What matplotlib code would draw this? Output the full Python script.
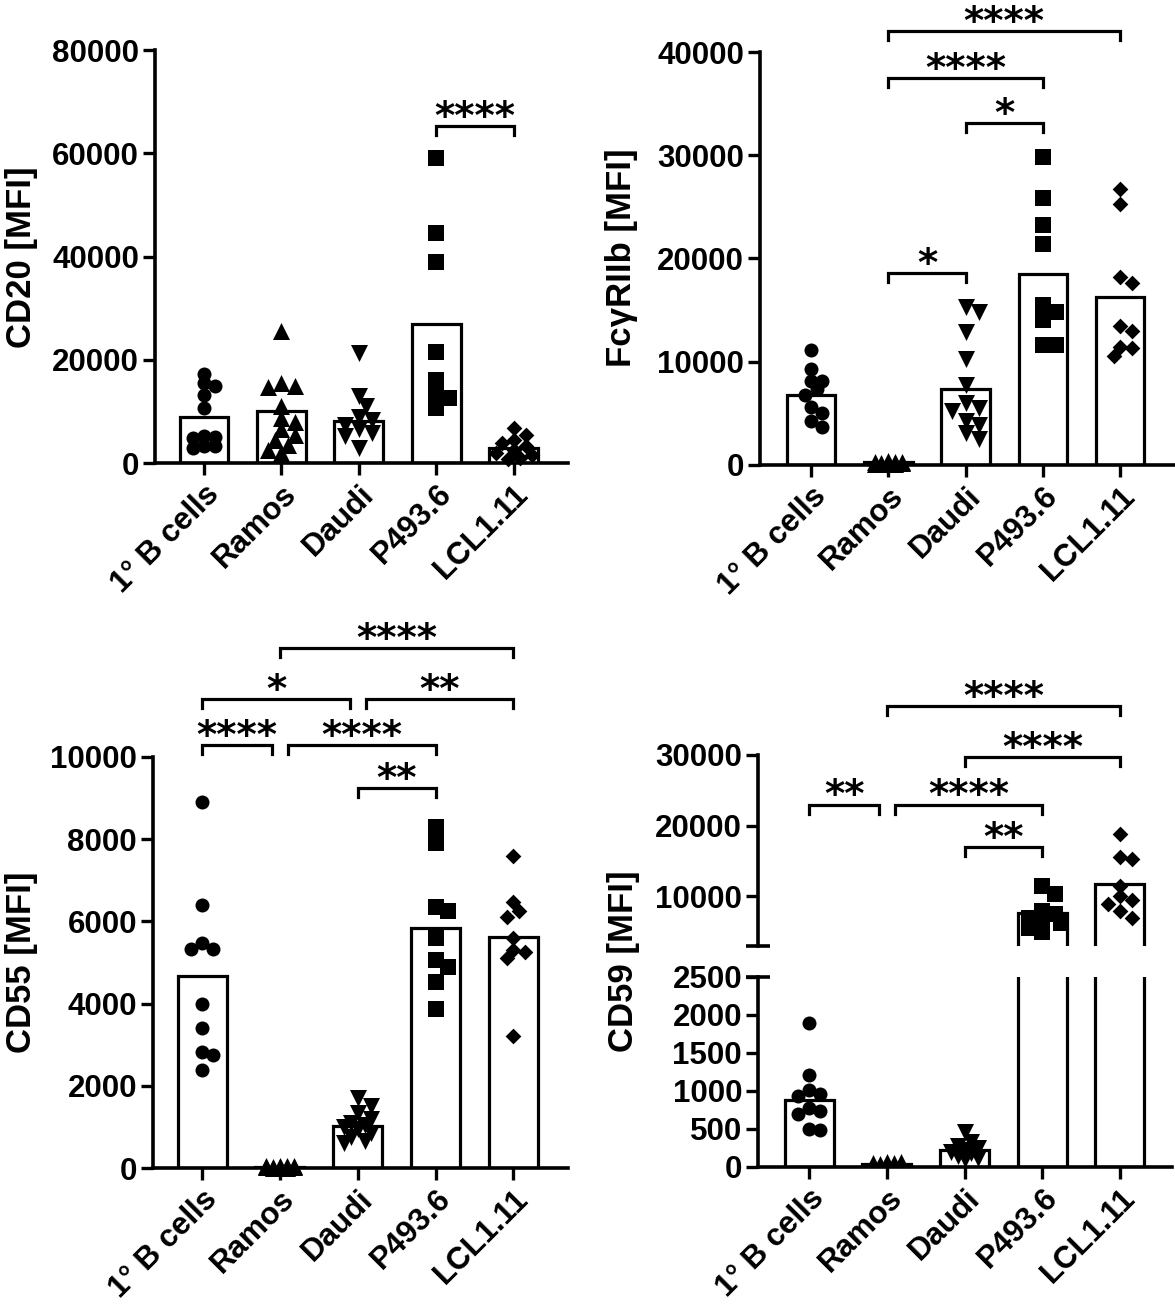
import matplotlib
matplotlib.use("Agg")
import matplotlib.pyplot as plt
import numpy as np

plt.rcParams["font.family"] = ["Liberation Sans", "DejaVu Sans"]
plt.rcParams["font.weight"] = "bold"

W, H = 1175, 1306

CATS = ["1° B cells", "Ramos", "Daudi", "P493.6", "LCL1.11"]
MARKERS = ["o", "^", "v", "s", "D"]
MARKER_PX = [14, 17, 17, 16, 15]

# CD20 [MFI]
cd20_bcells = [17300, 15500, 15000, 13200, 10600, 5300, 5000, 4800, 3300, 3200, 3000]
cd20_ramos = [25500, 15500, 15000, 14800, 11000, 8700, 8000, 6500, 5500, 4500, 3500, 2500, 2000]
cd20_daudi = [21300, 12900, 11000, 9000, 8400, 7400, 6500, 5800, 5200, 2900]
cd20_p493 = [59000, 44500, 39000, 21500, 16100, 13200, 12600, 10600]
cd20_lcl = [6800, 5500, 4500, 3800, 3200, 2600, 2000, 1500, 1000, 800]
cd20_bars = [9000, 10000, 8100, 26900, 2900]
cd20_sig = [(3, 4, "****", 65300)]

# FcgRIIb [MFI]
fcg_bcells = [11100, 9300, 8100, 8100, 7400, 6800, 5600, 5000, 4300, 3700]
fcg_ramos = [350, 300, 250, 250, 200, 200, 150, 150, 100, 100, 80, 50]
fcg_daudi = [15300, 14800, 12900, 10300, 7700, 6000, 5500, 5200, 4300, 3900, 3100, 2500]
fcg_p493 = [29800, 25900, 23200, 21400, 15500, 14800, 14000, 11600, 11600]
fcg_lcl = [26700, 25300, 18200, 17600, 13500, 13000, 11400, 11300, 10600]
fcg_bars = [6800, 300, 7400, 18500, 16300]
fcg_sig = [(1, 2, "*", 18600), (2, 3, "*", 33100), (1, 3, "****", 37500), (1, 4, "****", 42000)]

# CD55 [MFI]
cd55_bcells = [8900, 6400, 5470, 5340, 5340, 4000, 3400, 2830, 2750, 2390]
cd55_ramos = [60, 50, 40, 40, 30, 30, 20, 20, 15, 10, 10, 5]
cd55_daudi = [1700, 1500, 1350, 1200, 1100, 1050, 1000, 950, 850, 750, 650, 600]
cd55_p493 = [8300, 7900, 6340, 6250, 5600, 5060, 4880, 4520, 3880]
cd55_lcl = [7600, 6470, 6250, 6100, 5600, 5300, 5250, 5100, 3200]
cd55_bars = [4670, 30, 1020, 5850, 5630]
cd55_sig = [(0, 1, "****", 10290), (1, 3, "****", 10290), (2, 3, "**", 9250),
            (0, 2, "*", 11400), (2, 4, "**", 11400), (1, 4, "****", 12640)]

# CD59 [MFI] (broken axis)
cd59_bcells = [1890, 1210, 1010, 960, 930, 780, 740, 700, 500, 490]
cd59_ramos = [70, 60, 50, 50, 40, 40, 30, 30, 20, 20, 10, 10]
cd59_daudi = [460, 330, 280, 250, 220, 200, 180, 150, 120, 100]
cd59_p493 = [11500, 10400, 8000, 7500, 7000, 6600, 6200, 5500, 5000]
cd59_lcl = [18900, 15600, 15300, 11500, 10000, 9500, 9000, 8000, 7000]
cd59_bars = [883, 35, 220, 7700, 11700]
cd59_sig = [(0, 1, "**", 23000), (1, 3, "****", 23000), (2, 3, "**", 17000),
            (2, 4, "****", 29700), (1, 4, "****", 36900)]

LW = 2.3
TICK_FS = 22.5
STAR_FS = 28


def add_ax(fig, left, right, top, bottom):
    return fig.add_axes([left / W, 1 - bottom / H, (right - left) / W, (bottom - top) / H])


def style_ax(ax, xlim, ylim, yticks, show_x=True):
    ax.set_xlim(*xlim)
    ax.set_ylim(*ylim)
    ax.set_yticks(yticks)
    ax.set_yticklabels([str(t) for t in yticks])
    for s in ["top", "right"]:
        ax.spines[s].set_visible(False)
    for s in ["left", "bottom"]:
        ax.spines[s].set_linewidth(2.6)
    ax.tick_params(axis="both", direction="out", length=8.5, width=2.4,
                   labelsize=TICK_FS, pad=3)
    ax.set_xticks(range(len(CATS)))
    if show_x:
        ax.set_xticklabels(CATS, rotation=45, ha="right", va="top",
                           rotation_mode="anchor", fontsize=TICK_FS)
    else:
        ax.set_xticklabels([])
    for lab in ax.get_yticklabels() + ax.get_xticklabels():
        lab.set_fontweight("bold")


def swarm_offsets(vals, ypx, diam, xpx, max_units=0.25):
    # simple deterministic beeswarm in pixel space
    vals = np.asarray(vals, float)
    order = np.argsort(vals)[::-1]
    placed = []
    offs = np.zeros(len(vals))
    cands = [0.0]
    for k in range(1, 20):
        cands += [k * diam * 0.4, -k * diam * 0.4]
    for idx in order:
        y = vals[idx] * ypx
        best, bestc, bestd = None, 0.0, -1
        for c in cands:
            if abs(c) > max_units * xpx:
                continue
            d = min([np.hypot(c - px, y - py) for px, py in placed], default=np.inf)
            if d >= 0.65 * diam:
                best = c
                break
            if d > bestd:
                bestd, bestc = d, c
        if best is None:
            best = bestc
        placed.append((best, y))
        offs[idx] = best / xpx
    return offs


def px_scale(ax):
    bb = ax.get_window_extent()
    x0, x1 = ax.get_xlim()
    y0, y1 = ax.get_ylim()
    return bb.width / (x1 - x0), bb.height / (y1 - y0), bb.height


def draw_points(ax, groups, bars, lo=None, hi=None):
    xpx, ypx, _ = px_scale(ax)
    ax.bar(range(len(bars)), bars, width=0.63, facecolor="white", edgecolor="black",
           linewidth=LW, zorder=1)
    for i, vals in enumerate(groups):
        vals = np.asarray(vals, float)
        offs = swarm_offsets(vals, ypx, MARKER_PX[i], xpx)
        mask = np.ones(len(vals), bool)
        if lo is not None:
            mask &= vals >= lo
        if hi is not None:
            mask &= vals < hi
        size = (MARKER_PX[i] / 1.389) ** 2
        if MARKERS[i] == "D":
            size *= 0.55
        ax.scatter(i + offs[mask], vals[mask], marker=MARKERS[i], s=size, color="black",
                   linewidths=0, zorder=3, clip_on=False)


def draw_sig(ax, sigs):
    _, ypx, _ = px_scale(ax)
    leg = 9 / ypx
    ends = {}
    for i, j, lab, y in sigs:
        ends.setdefault(y, []).append((i, j))
    for i, j, lab, y in sigs:
        others = [p for p in ends[y] if p != (i, j)]
        xl, xr = float(i), float(j)
        if any(p[1] == i for p in others):
            xl += 0.1
        if any(p[0] == j for p in others):
            xr -= 0.1
        ax.plot([xl, xl, xr, xr], [y - leg, y, y, y - leg], color="black", lw=2.3,
                clip_on=False, solid_joinstyle="miter", zorder=4)
        ax.annotate(lab, ((xl + xr) / 2, y), xytext=(0, -2), textcoords="offset points",
                    ha="center", va="baseline", fontsize=STAR_FS, fontweight="bold",
                    family="DejaVu Sans", annotation_clip=False)


fig = plt.figure(figsize=(W / 100, H / 100), dpi=100)

# panel A: CD20
ax1 = add_ax(fig, 155, 568, 50, 463)
style_ax(ax1, (-0.632, 4.70), (0, 80000), [0, 20000, 40000, 60000, 80000])
draw_points(ax1, [cd20_bcells, cd20_ramos, cd20_daudi, cd20_p493, cd20_lcl], cd20_bars)
draw_sig(ax1, cd20_sig)
fig.text(22 / W, 1 - 257 / H, "CD20 [MFI]", rotation=90, ha="center", va="center",
         fontsize=25, fontweight="bold")

# panel B: FcgRIIb
ax2 = add_ax(fig, 760, 1175, 52, 465)
style_ax(ax2, (-0.66, 4.71), (0, 40000), [0, 10000, 20000, 30000, 40000])
draw_points(ax2, [fcg_bcells, fcg_ramos, fcg_daudi, fcg_p493, fcg_lcl], fcg_bars)
draw_sig(ax2, fcg_sig)
fig.text(622 / W, 1 - 258 / H, "FcγRIIb [MFI]", rotation=90, ha="center", va="center",
         fontsize=25, fontweight="bold")

# panel C: CD55
ax3 = add_ax(fig, 153, 568, 757, 1168)
style_ax(ax3, (-0.63, 4.70), (0, 10000), [0, 2000, 4000, 6000, 8000, 10000])
draw_points(ax3, [cd55_bcells, cd55_ramos, cd55_daudi, cd55_p493, cd55_lcl], cd55_bars)
draw_sig(ax3, cd55_sig)
fig.text(22 / W, 1 - 962 / H, "CD55 [MFI]", rotation=90, ha="center", va="center",
         fontsize=25, fontweight="bold")

# panel D: CD59 with broken y axis
ax4u = add_ax(fig, 758, 1172, 755, 946)
ax4l = add_ax(fig, 758, 1172, 977, 1167)
style_ax(ax4u, (-0.66, 4.67), (3000, 30000), [10000, 20000, 30000], show_x=False)
ax4u.spines["bottom"].set_visible(False)
ax4u.tick_params(axis="x", length=0)
style_ax(ax4l, (-0.66, 4.67), (0, 2500), [0, 500, 1000, 1500, 2000, 2500])
cd59_groups = [cd59_bcells, cd59_ramos, cd59_daudi, cd59_p493, cd59_lcl]
draw_points(ax4u, cd59_groups, cd59_bars, lo=3000)
draw_points(ax4l, cd59_groups, cd59_bars, hi=3000)
for ax in (ax4u, ax4l):
    for c in ax.collections:
        c.set_clip_on(True)
draw_sig(ax4u, cd59_sig)
tl = 12 / ax4u.get_window_extent().width
ax4u.plot([-tl, tl], [0, 0], transform=ax4u.transAxes, color="black", lw=2.6,
          clip_on=False, solid_capstyle="butt")
ax4l.plot([-tl, tl], [1, 1], transform=ax4l.transAxes, color="black", lw=2.6,
          clip_on=False, solid_capstyle="butt")
fig.text(624 / W, 1 - 961 / H, "CD59 [MFI]", rotation=90, ha="center", va="center",
         fontsize=25, fontweight="bold")

fig.savefig("out.png", dpi=100)
